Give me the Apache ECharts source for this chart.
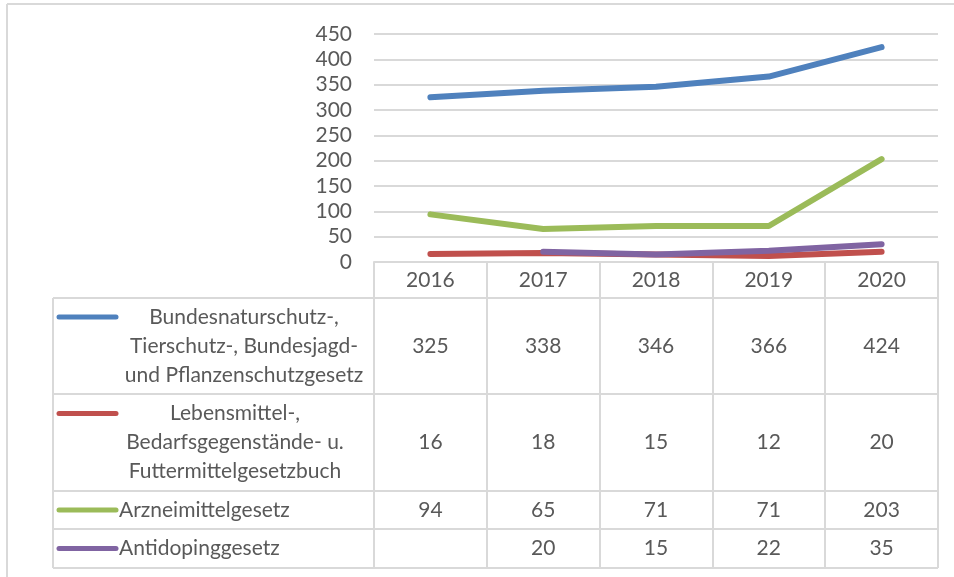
<!DOCTYPE html>
<html>
<head>
<meta charset="utf-8">
<script src="https://cdn.jsdelivr.net/npm/echarts@6/dist/echarts.min.js"></script>
<style>
  html, body { margin: 0; padding: 0; background: #fff; }
  #chart { width: 954px; height: 577px; }
</style>
</head>
<body>
<div id="chart"></div>
<script>
// Daten
const years = ['2016', '2017', '2018', '2019', '2020']
const seriesNames = [
  'Bundesnaturschutz-,\nTierschutz-, Bundesjagd-\nund Pflanzenschutzgesetz',
  'Lebensmittel-,\nBedarfsgegenstände- u.\nFuttermittelgesetzbuch',
  'Arzneimittelgesetz',
  'Antidopinggesetz'
]
const naturschutz = [325, 338, 346, 366, 424]
const lebensmittel = [16, 18, 15, 12, 20]
const arzneimittel = [94, 65, 71, 71, 203]
const antidoping = [null, 20, 15, 22, 35]
const yMin = 0
const yMax = 450
const yStep = 50

const allValues = [naturschutz, lebensmittel, arzneimittel, antidoping]
const colors = ['#4F81BD', '#C0504D', '#9BBB59', '#8064A2']

// Layout der Tabelle
const fontFamily = 'Lato'
const textColor = '#595959'
const lineColor = '#D9D9D9'
const axisY = 262
const tableLeft = 53
const tableRight = 938
const headerBottom = 298
const rowBottoms = [394, 491, 529, 568]
const labelX = [244, 235, 119, 119]
const labelAlign = ['center', 'center', 'left', 'left']
const lineH = 29

const chart = echarts.init(document.getElementById('chart'))

chart.setOption({
  animation: false,
  grid: { left: 374, right: 16, top: 34, bottom: 577 - axisY, containLabel: false },
  xAxis: {
    type: 'category',
    data: years,
    boundaryGap: true,
    axisLine: { lineStyle: { color: lineColor, width: 2 } },
    axisTick: { show: true, length: rowBottoms[3] - axisY, lineStyle: { color: lineColor, width: 2 } },
    axisLabel: { color: textColor, fontSize: 21, fontFamily: fontFamily, margin: 8 }
  },
  yAxis: {
    type: 'value',
    min: yMin,
    max: yMax,
    interval: yStep,
    axisLine: { show: false },
    axisTick: { show: false },
    splitLine: { lineStyle: { color: lineColor, width: 2 } },
    axisLabel: { color: textColor, fontSize: 21, fontFamily: fontFamily, margin: 22 }
  },
  series: allValues.map((vals, i) => ({
    name: seriesNames[i],
    type: 'line',
    data: vals,
    showSymbol: false,
    connectNulls: false,
    lineStyle: { color: colors[i], width: 6, cap: 'round', join: 'round' },
    itemStyle: { color: colors[i] }
  }))
})

// Datentabelle unter dem Diagramm
const colX = years.map(y => chart.convertToPixel({ xAxisIndex: 0 }, y))
const elements = []

const hLine = (y, x1, x2) => ({
  type: 'line',
  shape: { x1: x1, y1: y, x2: x2, y2: y },
  style: { stroke: lineColor, lineWidth: 2 },
  silent: true
})

// Rahmen
elements.push(hLine(4, 7, 954))
elements.push({
  type: 'line',
  shape: { x1: 7, y1: 4, x2: 7, y2: 577 },
  style: { stroke: lineColor, lineWidth: 2 },
  silent: true
})

// Tabellenlinien
elements.push(hLine(headerBottom, tableLeft, tableRight))
rowBottoms.forEach(y => elements.push(hLine(y, tableLeft, tableRight)))
elements.push({
  type: 'line',
  shape: { x1: tableLeft, y1: headerBottom, x2: tableLeft, y2: rowBottoms[3] },
  style: { stroke: lineColor, lineWidth: 2 },
  silent: true
})

let rowTop = headerBottom
seriesNames.forEach((name, i) => {
  const rowBottom = rowBottoms[i]
  const mid = (rowTop + rowBottom) / 2
  const nLines = name.split('\n').length
  const firstLineY = mid - (nLines - 1) / 2 * lineH

  // Legendensymbol
  elements.push({
    type: 'line',
    shape: { x1: 59, y1: firstLineY, x2: 116, y2: firstLineY },
    style: { stroke: colors[i], lineWidth: 5, lineCap: 'round' },
    silent: true
  })

  // Bezeichnung
  elements.push({
    type: 'text',
    x: labelX[i],
    y: mid,
    style: {
      text: name,
      fill: textColor,
      font: '21px ' + fontFamily,
      align: labelAlign[i],
      textAlign: labelAlign[i],
      verticalAlign: 'middle',
      textVerticalAlign: 'middle',
      lineHeight: lineH
    },
    silent: true
  })

  // Werte
  allValues[i].forEach((v, j) => {
    if (v === null) return
    elements.push({
      type: 'text',
      x: colX[j],
      y: mid,
      style: {
        text: String(v),
        fill: textColor,
        font: '21px ' + fontFamily,
        align: 'center',
        textAlign: 'center',
        verticalAlign: 'middle',
        textVerticalAlign: 'middle'
      },
      silent: true
    })
  })
  rowTop = rowBottom
})

chart.setOption({ graphic: { elements: elements } })
</script>
</body>
</html>
